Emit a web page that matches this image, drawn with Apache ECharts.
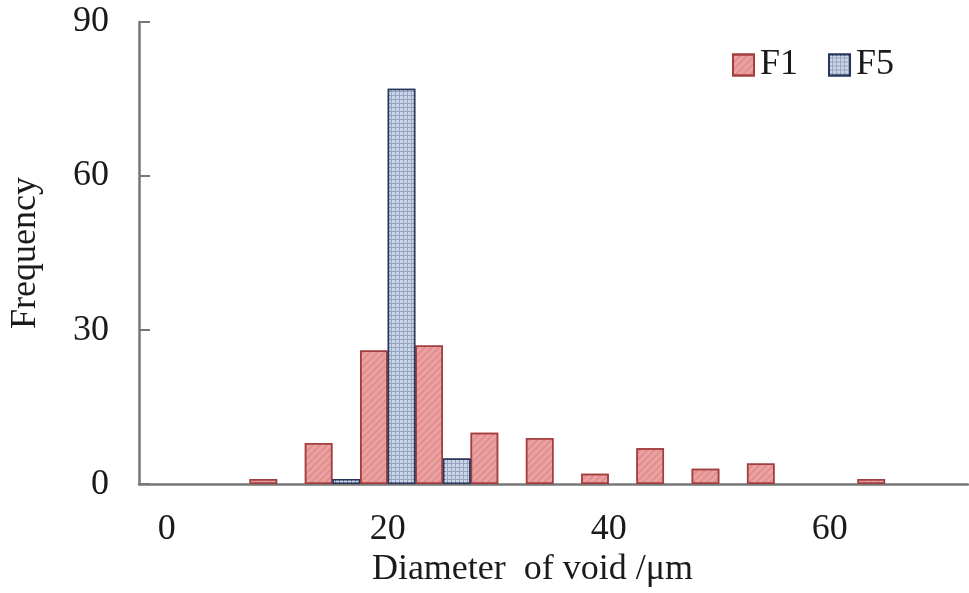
<!DOCTYPE html>
<html>
<head>
<meta charset="utf-8">
<script src="https://cdn.jsdelivr.net/npm/echarts@6/dist/echarts.min.js"></script>
<style>
html, body { margin: 0; padding: 0; background: #fff; }
#chart { width: 969px; height: 593px; }
</style>
</head>
<body>
<div id="chart"></div>
<script>
// void diameter bins (um), every 4th one labelled
var diameters = ['0', '5', '10', '15', '20', '25', '30', '35', '40', '45', '50', '55', '60', '65', '70'];
var f1 = [0, 0, 1, 8, 26, 27, 10, 9, 2, 7, 3, 4, 0, 1, 0];
var f5 = [0, 0, 0, 1, 77, 5, 0, 0, 0, 0, 0, 0, 0, 0, 0];
var yTicks = [0, 30, 60, 90];

var serif = 'Liberation Serif';
var myChart = echarts.init(document.getElementById('chart'));

// empty bins are not drawn at all in the original
function noZero(arr) {
    return arr.map(function (v) { return v === 0 ? '-' : v; });
}

var option = {
    backgroundColor: '#fff',
    animation: false,
    grid: { left: 138, right: 1, top: 22, bottom: 108 },
    legend: {
        left: 727, top: 42,
        itemWidth: 21, itemHeight: 21, itemGap: 30,
        icon: 'rect',
        textStyle: { fontFamily: serif, fontSize: 36, color: '#1a1a1a', padding: [0, 0, 0, 1] },
        data: ['F1', 'F5']
    },
    xAxis: {
        type: 'category',
        data: diameters,
        boundaryGap: true,
        name: 'Diameter  of void /\u03bcm',
        nameLocation: 'middle',
        nameGap: 66,
        nameTextStyle: { fontFamily: serif, fontSize: 36, color: '#1a1a1a', padding: [0, 42, 0, 0] },
        axisLine: { lineStyle: { color: '#777', width: 2.5 } },
        axisTick: { inside: true, length: 11, interval: 0, lineStyle: { color: '#777', width: 2 } },
        axisLabel: { interval: 3, margin: 27, fontFamily: serif, fontSize: 36, color: '#1a1a1a' },
        splitLine: { show: false }
    },
    yAxis: {
        type: 'value',
        min: yTicks[0], max: yTicks[yTicks.length - 1], interval: 30,
        name: 'Frequency',
        nameLocation: 'middle',
        nameGap: 95,
        nameTextStyle: { fontFamily: serif, fontSize: 36, color: '#1a1a1a' },
        axisLine: { show: true, lineStyle: { color: '#777', width: 2.5 } },
        axisTick: { show: true, inside: true, length: 11, lineStyle: { color: '#777', width: 2 } },
        axisLabel: { margin: 30, fontFamily: serif, fontSize: 36, color: '#1a1a1a' },
        splitLine: { show: false }
    },
    series: [
        {
            name: 'F1',
            type: 'bar',
            data: noZero(f1),
            barGap: '0%',
            barCategoryGap: '0%',
            itemStyle: {
                color: '#EAA2A2',
                borderColor: '#A23E3E',
                borderWidth: 1.5,
                decal: {
                    symbol: 'rect', symbolSize: 1,
                    dashArrayX: [1, 0], dashArrayY: [2, 3],
                    rotation: -Math.PI / 4,
                    color: 'rgba(205, 95, 95, 0.3)'
                }
            }
        },
        {
            name: 'F5',
            type: 'bar',
            data: noZero(f5),
            itemStyle: {
                color: '#95A6C2',
                borderColor: '#27365A',
                borderWidth: 1.5,
                decal: {
                    symbol: 'rect', symbolSize: 1,
                    dashArrayX: [[3, 1]], dashArrayY: [3, 1],
                    color: '#CBD5E6'
                }
            }
        }
    ]
};

myChart.setOption(option);
</script>
</body>
</html>
